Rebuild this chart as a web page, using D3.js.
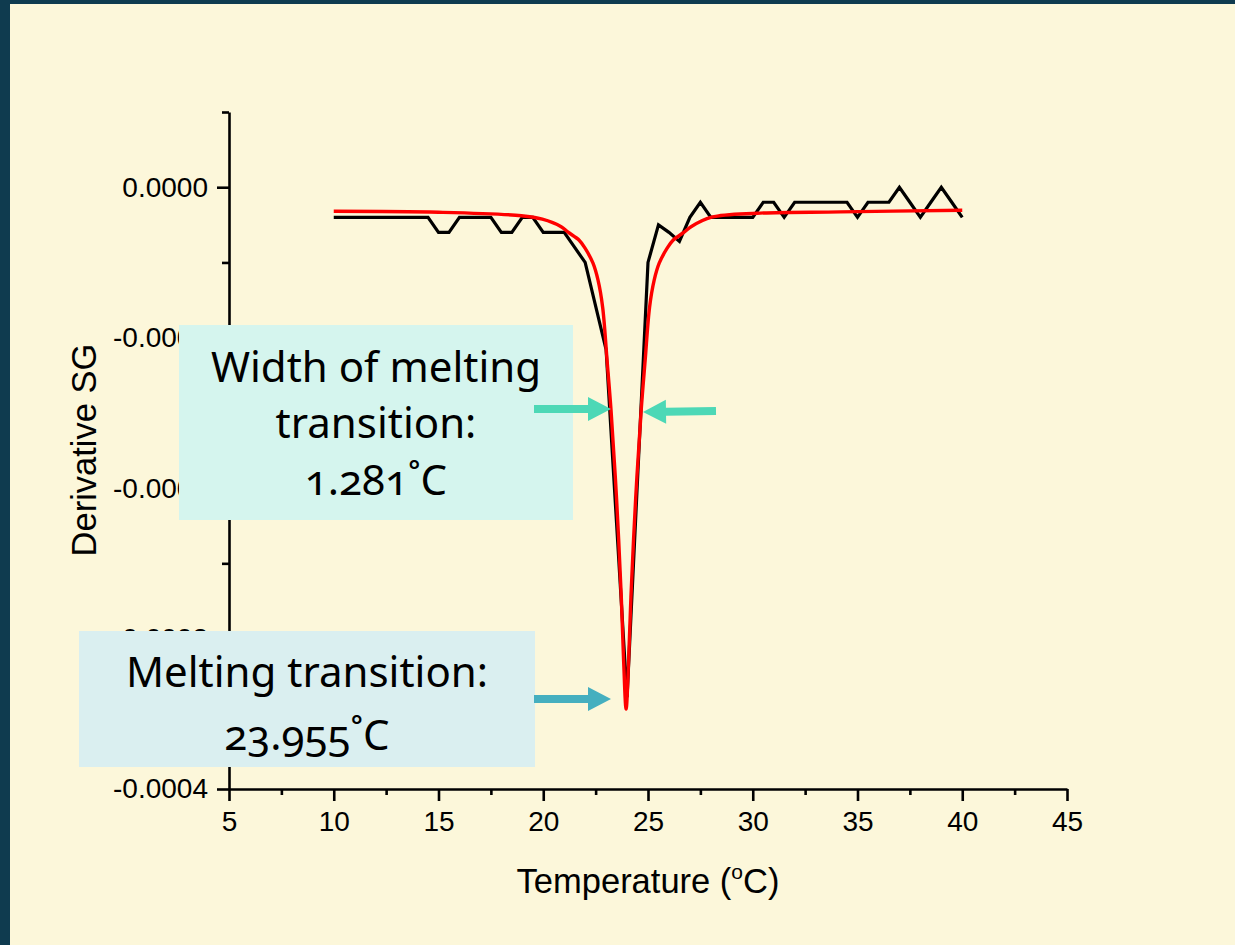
<!DOCTYPE html>
<html>
<head>
<meta charset="utf-8">
<script src="https://cdn.jsdelivr.net/npm/d3@7"></script>
<style>
  html, body { margin: 0; padding: 0; background: #0f3b4f; }
  svg { display: block; }
</style>
</head>
<body>
<svg id="chart" width="1235" height="945"></svg>
<script>
// Measured derivative of specific gravity (black trace)
const measuredTemp = [10, 10.5, 11, 11.5, 12, 12.5, 13, 13.5, 14, 14.5, 15, 15.5, 16, 16.5, 17, 17.5, 18, 18.5, 19, 19.5,
  20, 20.5, 21, 21.5, 22, 23, 24, 25, 25.5, 26, 26.5, 27, 27.5, 28, 28.5, 29, 29.5, 30, 30.5, 31, 31.5,
  32, 32.5, 33, 33.5, 34, 34.5, 35, 35.5, 36, 36.5, 37, 37.5, 38, 38.5, 39, 39.5, 40];
const measuredDeriv = [-2.0e-5, -2.0e-5, -2.0e-5, -2.0e-5, -2.0e-5, -2.0e-5, -2.0e-5, -2.0e-5, -2.0e-5, -2.0e-5,
  -3.0e-5, -3.0e-5, -2.0e-5, -2.0e-5, -2.0e-5, -2.0e-5, -3.0e-5, -3.0e-5, -2.0e-5, -2.0e-5,
  -3.0e-5, -3.0e-5, -3.0e-5, -4.0e-5, -5.0e-5, -10.8e-5, -33.9e-5, -5.0e-5, -2.5e-5, -3.0e-5, -3.6e-5,
  -2.0e-5, -1.0e-5, -2.0e-5, -2.0e-5, -2.0e-5, -2.0e-5, -2.0e-5, -1.0e-5, -1.0e-5, -2.0e-5,
  -1.0e-5, -1.0e-5, -1.0e-5, -1.0e-5, -1.0e-5, -1.0e-5, -2.0e-5, -1.0e-5, -1.0e-5, -1.0e-5, 0,
  -1.0e-5, -2.0e-5, -1.0e-5, 0, -1.0e-5, -2.0e-5];

// Peak fit (red trace); its minimum sits at the melting transition
const meltingTemp = 23.955;
const meltingWidth = 1.281;
const fitTemp = [10, 15, 18.955, 19.955, 20.855, 21.185, 21.715, 21.995, 22.375, 22.615, 22.835, 23.045,
  23.235, 23.495, 23.725, 23.835, meltingTemp, 24.075, 24.185, 24.415, 24.675, 24.865, 25.075, 25.295,
  25.535, 25.915, 26.195, 26.725, 27.055, 28.04, 30.2, 34.2, 40];
const fitDeriv = [-1.595e-5, -1.661e-5, -1.894e-5, -2.126e-5, -2.625e-5, -2.990e-5, -3.522e-5, -4.053e-5,
  -5.050e-5, -6.179e-5, -7.973e-5, -11.495e-5, -14.817e-5, -20.598e-5, -27.243e-5, -31.429e-5, -34.684e-5,
  -31.429e-5, -27.243e-5, -20.598e-5, -14.817e-5, -11.495e-5, -7.973e-5, -6.179e-5, -5.050e-5, -4.053e-5,
  -3.522e-5, -2.990e-5, -2.625e-5, -1.993e-5, -1.728e-5, -1.641e-5, -1.528e-5];

// Axis ticks
const xMajorTicks = [5, 10, 15, 20, 25, 30, 35, 40, 45];
const xMinorTicks = [7.5, 12.5, 17.5, 22.5, 27.5, 32.5, 37.5, 42.5];
const yMajorTicks = [0, -0.0001, -0.0002, -0.0003, -0.0004];
const yMinorTicks = [0.00005, -0.00005, -0.00015, -0.00025, -0.00035];

const svg = d3.select("#chart");

// cream slide background inside the dark frame
svg.append("rect").attr("x", 10).attr("y", 4).attr("width", 1225).attr("height", 941).attr("fill", "#fcf7da");

const x = d3.scaleLinear().domain([5, 45]).range([229, 1067]);
const y = d3.scaleLinear().domain([-0.0004, 0.00005]).range([789, 112]);

const axisFont = "'Liberation Sans', Arial, sans-serif";

// x axis
const gx = svg.append("g").attr("transform", `translate(0,${y(-0.0004)})`);
gx.call(d3.axisBottom(x).tickValues(xMajorTicks).tickSize(12).tickSizeOuter(0).tickPadding(10).tickFormat(d3.format("d")));
gx.append("g").call(d3.axisBottom(x).tickValues(xMinorTicks).tickSize(6).tickFormat(""))
  .select(".domain").remove();

// y axis
const gy = svg.append("g").attr("transform", `translate(${x(5)},0)`);
gy.call(d3.axisLeft(y).tickValues(yMajorTicks).tickSize(12).tickSizeOuter(0).tickPadding(9)
  .tickFormat(d => d === 0 ? "0.0000" : d.toFixed(4)));
gy.append("g").call(d3.axisLeft(y).tickValues(yMinorTicks).tickSize(7).tickFormat(""))
  .select(".domain").remove();

svg.selectAll(".domain, .tick line").attr("stroke", "#000").attr("stroke-width", 2.6);
svg.selectAll(".tick text").attr("font-family", axisFont).attr("font-size", 28).attr("fill", "#000");

// axis titles
const xTitle = svg.append("text")
  .attr("x", 648).attr("y", 893).attr("text-anchor", "middle")
  .attr("font-family", axisFont).attr("font-size", 34.5).attr("fill", "#000");
xTitle.append("tspan").text("Temperature (");
xTitle.append("tspan").attr("font-size", 21).attr("dy", -14).text("o");
xTitle.append("tspan").attr("dy", 14).text("C)");

svg.append("text")
  .attr("transform", "translate(96,450) rotate(-90)")
  .attr("text-anchor", "middle")
  .attr("font-family", axisFont).attr("font-size", 34.5).attr("fill", "#000")
  .text("Derivative SG");

// traces
const measured = measuredTemp.map((t, i) => [t, measuredDeriv[i]]);
const fit = fitTemp.map((t, i) => [t, fitDeriv[i]]);

svg.append("path")
  .attr("d", d3.line().x(d => x(d[0])).y(d => y(d[1]))(measured))
  .attr("fill", "none").attr("stroke", "#000").attr("stroke-width", 3.2).attr("stroke-linejoin", "miter");

svg.append("path")
  .attr("d", d3.line().curve(d3.curveCatmullRom.alpha(0.5)).x(d => x(d[0])).y(d => y(d[1]))(fit))
  .attr("fill", "none").attr("stroke", "#ff0000").attr("stroke-width", 3.4);

// annotation boxes
const boxFont = "'Noto Sans', 'Open Sans', sans-serif";

svg.append("rect").attr("x", 179).attr("y", 325).attr("width", 394).attr("height", 195).attr("fill", "#d5f5ee");
svg.append("rect").attr("x", 79).attr("y", 631).attr("width", 456).attr("height", 136).attr("fill", "#daeff0");

function boxText(cx, baselines, lines) {
  const t = svg.append("text")
    .attr("text-anchor", "middle")
    .attr("font-family", boxFont).attr("font-size", 42).attr("fill", "#000")
    .style("font-variant-numeric", "oldstyle-nums");
  lines.forEach((s, i) => t.append("tspan").attr("x", cx).attr("y", baselines[i]).text(s));
}
boxText(376, [382, 438, 495], ["Width of melting", "transition:", meltingWidth.toFixed(3) + "˚C"]);
boxText(307, [687, 750], ["Melting transition:", meltingTemp.toFixed(3) + "˚C"]);

// arrows
function arrow(x0, y0, x1, y1, color) {
  const len = Math.hypot(x1 - x0, y1 - y0);
  const ang = Math.atan2(y1 - y0, x1 - x0) * 180 / Math.PI;
  const head = 23, shaft = 4, hw = 12;
  svg.append("path")
    .attr("transform", `translate(${x0},${y0}) rotate(${ang})`)
    .attr("d", `M0,${-shaft}L${len - head},${-shaft}L${len - head},${-hw}L${len},0L${len - head},${hw}L${len - head},${shaft}L0,${shaft}Z`)
    .attr("fill", color);
}
arrow(534, 409, 611, 409, "#4dd8b6");
arrow(716, 411, 643, 412, "#4dd8b6");
arrow(534, 699, 611, 699, "#45afbf");
</script>
</body>
</html>
